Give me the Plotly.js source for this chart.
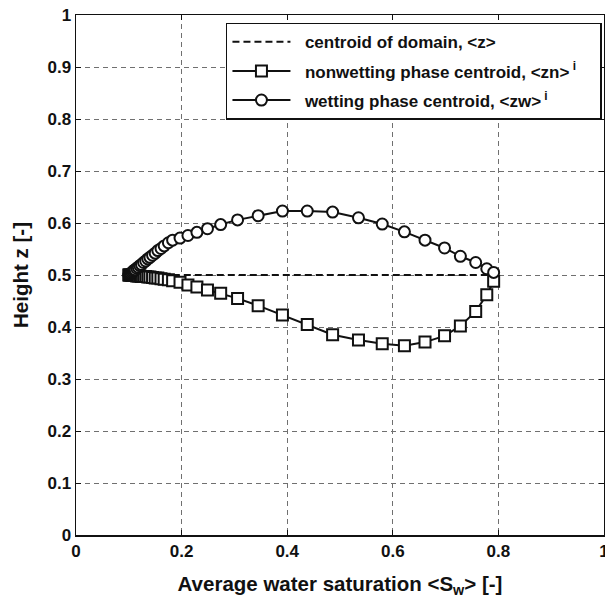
<!DOCTYPE html>
<html>
<head>
<meta charset="utf-8">
<script src="https://cdn.plot.ly/plotly-3.0.1.min.js"></script>
<style>html,body{margin:0;padding:0;background:#fff;}#plot{width:605px;height:603px;}</style>
</head>
<body>
<div id="plot"></div>
<script>
// Average water saturation <Sw> (shared by both centroid series)
const saturation = [0.100,0.101,0.102,0.104,0.106,0.108,0.110,0.112,0.115,0.118,0.121,0.124,0.128,0.132,0.136,0.140,0.145,0.150,0.155,0.161,0.167,0.175,
  0.183,0.197,0.212,0.229,0.249,0.274,0.306,0.345,0.391,0.438,0.486,0.535,0.580,0.622,0.661,0.698,0.728,0.757,0.778,0.791];
// nonwetting phase centroid <zn>^i
const zNonwetting = [0.500,0.500,0.500,0.500,0.499,0.499,0.499,0.499,0.498,0.498,0.498,0.497,0.497,0.497,0.496,0.496,0.495,0.494,0.494,0.493,0.492,0.491,
  0.489,0.486,0.481,0.477,0.471,0.465,0.455,0.441,0.423,0.405,0.385,0.375,0.368,0.364,0.371,0.383,0.402,0.430,0.462,0.488];
// wetting phase centroid <zw>^i
const zWetting = [0.500,0.501,0.502,0.503,0.505,0.507,0.509,0.510,0.513,0.515,0.518,0.520,0.524,0.527,0.531,0.534,0.538,0.542,0.547,0.551,0.556,0.562,
  0.567,0.571,0.576,0.582,0.589,0.597,0.606,0.614,0.623,0.623,0.621,0.610,0.598,0.583,0.567,0.552,0.536,0.524,0.512,0.505];
// centroid of domain <z>
const domainSat = [0.100, 0.791];
const domainZ = [0.5, 0.5];

const xTicks = [0, 0.2, 0.4, 0.6, 0.8, 1];
const xTickText = ['0','0.2','0.4','0.6','0.8','1'];
const yTicks = [0,0.1,0.2,0.3,0.4,0.5,0.6,0.7,0.8,0.9,1];
const yTickText = ['0','0.1','0.2','0.3','0.4','0.5','0.6','0.7','0.8','0.9','1'];

const FONT = 'Liberation Sans, Arial, Helvetica, sans-serif';

const traces = [
  {x: domainSat, y: domainZ, mode: 'lines', name: '&nbsp;&nbsp;centroid of domain, &lt;z&gt;',
   legendgroup: 'g1',
   line: {color: '#111', width: 2, dash: '7px,4px'}},
  {x: saturation, y: zNonwetting, mode: 'lines+markers', name: '&nbsp;&nbsp;nonwetting phase centroid, &lt;zn&gt;<sup> i</sup>&nbsp;&nbsp;&nbsp;&nbsp;',
   legendgroup: 'g2',
   line: {color: '#111', width: 2},
   marker: {symbol: 'square', size: 11, color: '#fff', line: {color: '#111', width: 2}}},
  {x: saturation, y: zWetting, mode: 'lines+markers', name: '&nbsp;&nbsp;wetting phase centroid, &lt;zw&gt;<sup> i</sup>',
   legendgroup: 'g3',
   line: {color: '#111', width: 2},
   marker: {symbol: 'circle', size: 11, color: '#fff', line: {color: '#111', width: 2}}}
];

const axisCommon = {
  showgrid: true, gridcolor: '#707070', gridwidth: 1, griddash: '5px,4px',
  zeroline: false, showline: true, linecolor: '#111', linewidth: 1.5, mirror: 'ticks',
  ticks: 'inside', ticklen: 5, tickcolor: '#111', tickwidth: 1,
  ticklabeloverflow: 'allow',
  tickfont: {family: FONT, size: 17, color: '#111', weight: 'bold'}
};

const layout = {
  width: 605, height: 603,
  margin: {l: 76, r: 1, t: 14.5, b: 67.5},
  paper_bgcolor: '#fff', plot_bgcolor: '#fff',
  showlegend: true,
  xaxis: Object.assign({}, axisCommon, {
    range: [0, 1], tickvals: xTicks, ticktext: xTickText,
    title: {text: 'Average water saturation &lt;S<sub>w</sub>&gt; [-]', standoff: 16,
      font: {family: FONT, size: 20.5, color: '#111', weight: 'bold'}}
  }),
  yaxis: Object.assign({}, axisCommon, {
    range: [0, 1], tickvals: yTicks, ticktext: yTickText,
    title: {text: 'Height z [-]', standoff: 13,
      font: {family: FONT, size: 20.5, color: '#111', weight: 'bold'}}
  }),
  legend: {
    x: 0.284, xanchor: 'left', xref: 'paper', y: 0.985, yanchor: 'top',
    bgcolor: '#fff', bordercolor: '#111', borderwidth: 1.5,
    itemwidth: 58, tracegroupgap: 4,
    font: {family: FONT, size: 17, color: '#111', weight: 'bold'}
  }
};

Plotly.newPlot('plot', traces, layout, {staticPlot: true, displayModeBar: false});
</script>
</body>
</html>
